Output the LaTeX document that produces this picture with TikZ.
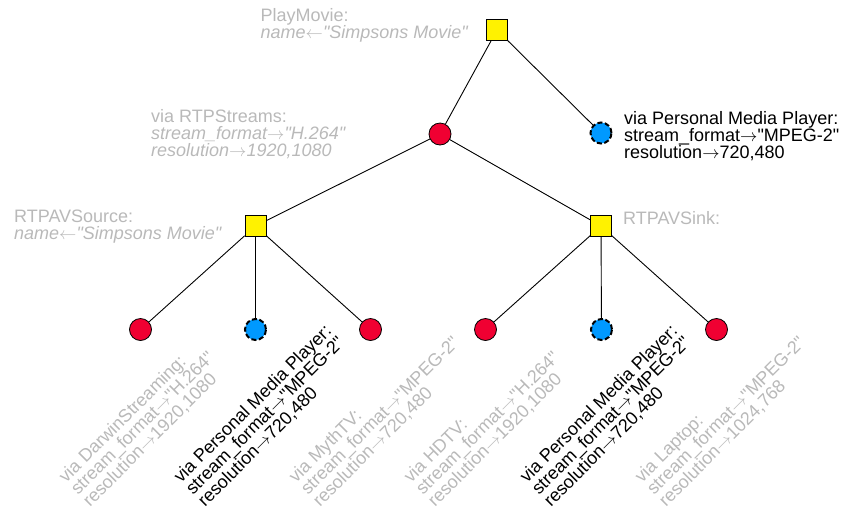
\documentclass[tikz,border=0pt]{standalone}
\usepackage{fontspec}
\setmainfont{Liberation Sans}[Ligatures=TeXOff]
\definecolor{svcred}{RGB}{240,0,50}
\definecolor{pickblue}{RGB}{0,153,255}
\definecolor{labelgray}{RGB}{185,185,185}
\tikzset{
  opnode/.style={rectangle, draw, fill=yellow, minimum size=21pt, inner sep=0pt, line width=0.8pt},
  svcnode/.style={circle, draw, fill=svcred, minimum size=22pt, inner sep=0pt, line width=0.8pt},
  chosen/.style={circle, draw, fill=pickblue, minimum size=21pt, inner sep=0pt, line width=2pt, dash pattern=on 5pt off 2.5pt},
  link/.style={line width=0.9pt},
  lbl/.style={inner sep=0pt, align=left, font=\fontsize{18}{17}\selectfont},
  faint/.style={lbl, text=labelgray},
  leaflbl/.style={anchor=north west, rotate=45},
}
\newcommand{\ra}{$\rightarrow$}
\newcommand{\la}{$\leftarrow$}
\begin{document}
\begin{tikzpicture}[x=1pt, y=-1pt]
  \useasboundingbox (0,0) rectangle (843,507);

  % plan tree
  \node[opnode]  (root) at (497,30) {};
  \node[svcnode] (rtp)  at (440,134) {};
  \node[chosen]  (pmp)  at (601,133) {};
  \node[opnode]  (src)  at (255.5,226) {};
  \node[opnode]  (sink) at (601,226) {};
  \node[svcnode] (d)    at (140.5,329.5) {};
  \node[chosen]  (p1)   at (255.5,329.5) {};
  \node[svcnode] (m)    at (370.5,329.5) {};
  \node[svcnode] (h)    at (485.5,329.5) {};
  \node[chosen]  (p2)   at (601.5,329.5) {};
  \node[svcnode] (l)    at (716.5,329.5) {};

  \draw[link] (root) -- (rtp);
  \draw[link] (root) -- (pmp);
  \draw[link] (rtp) -- (src);
  \draw[link] (rtp) -- (sink);
  \draw[link] (src) -- (d);
  \draw[link] (src) -- (p1);
  \draw[link] (src) -- (m);
  \draw[link] (sink) -- (h);
  \draw[link] (sink) -- (p2);
  \draw[link] (sink) -- (l);

  % labels of the inner nodes
  \node[faint, anchor=west] (rootlbl) at (260.5,25)
    {PlayMovie:\\\itshape name\la"Simpsons Movie"};
  \node[faint, anchor=west] (rtplbl) at (151,134.5)
    {via RTPStreams:\\\itshape stream\_format\ra"H.264"\\\itshape resolution\ra1920,1080};
  \node[lbl, anchor=west] (pmplbl) at (624,136)
    {via Personal Media Player:\\stream\_format\ra"MPEG-2"\\resolution\ra720,480};
  \node[faint, anchor=west] (srclbl) at (14,227)
    {RTPAVSource:\\\itshape name\la"Simpsons Movie"};
  \node[faint, anchor=base west] (sinklbl) at (623,224) {RTPAVSink:};

  % rotated labels of the leaves
  \node[faint, leaflbl] (dlbl) at ([shift={(-84,145)}]d.center)
    {via DarwinStreaming:\\stream\_format\ra"H.264"\\resolution\ra1920,1080};
  \node[lbl, leaflbl] (p1lbl) at ([shift={(-84,145)}]p1.center)
    {via Personal Media Player:\\stream\_format\ra"MPEG-2"\\resolution\ra720,480};
  \node[faint, leaflbl] (mlbl) at ([shift={(-84,145)}]m.center)
    {via MythTV:\\stream\_format\ra"MPEG-2"\\resolution\ra720,480};
  \node[faint, leaflbl] (hlbl) at ([shift={(-84,145)}]h.center)
    {via HDTV:\\stream\_format\ra"H.264"\\resolution\ra1920,1080};
  \node[lbl, leaflbl] (p2lbl) at ([shift={(-84,145)}]p2.center)
    {via Personal Media Player:\\stream\_format\ra"MPEG-2"\\resolution\ra720,480};
  \node[faint, leaflbl] (llbl) at ([shift={(-84,145)}]l.center)
    {via Laptop:\\stream\_format\ra"MPEG-2"\\resolution\ra1024,768};
\end{tikzpicture}
\end{document}
